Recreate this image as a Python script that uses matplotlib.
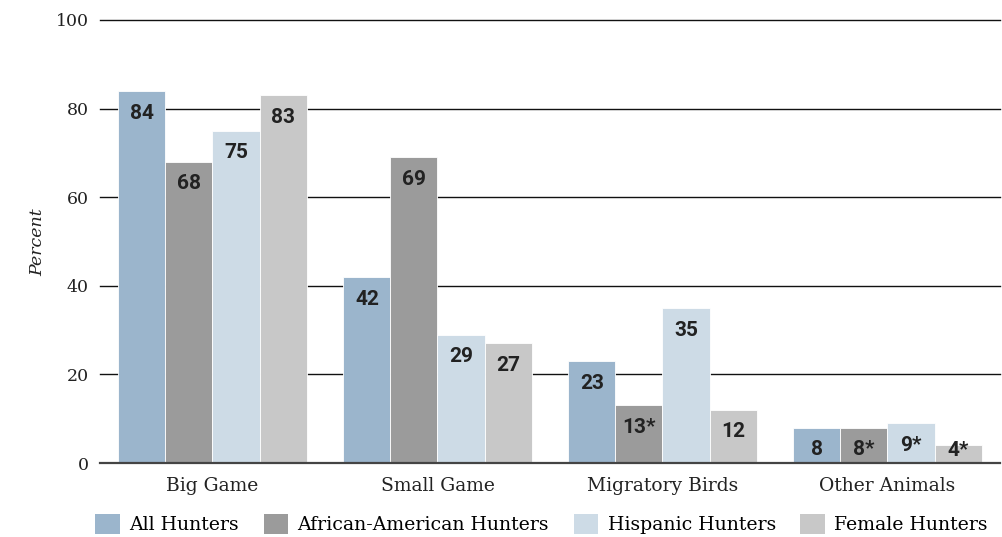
import matplotlib.pyplot as plt
import numpy as np
from matplotlib.patches import Patch

categories = ['Big Game', 'Small Game', 'Migratory Birds', 'Other Animals']
series_names = ['All Hunters', 'African-American Hunters', 'Hispanic Hunters', 'Female Hunters']
all_hunters = [84, 42, 23, 8]
african_american = [68, 69, 13, 8]
hispanic = [75, 29, 35, 9]
female = [83, 27, 12, 4]
bar_labels = [
    ['84', '42', '23', '8'],
    ['68', '69', '13*', '8*'],
    ['75', '29', '35', '9*'],
    ['83', '27', '12', '4*'],
]

colors = ['#9bb5cc', '#9b9b9b', '#cddbe6', '#c8c8c8']
series = [all_hunters, african_american, hispanic, female]

serif = 'DejaVu Serif'

fig = plt.figure(figsize=(10.03, 5.37), dpi=100)
ax = fig.add_axes([100 / 1003, 1 - 463 / 537, 900 / 1003, 443 / 537])

x = np.arange(len(categories))
w = 0.209
for i, (vals, col) in enumerate(zip(series, colors)):
    pos = x + (i - 1.5) * w
    bars = ax.bar(pos, vals, width=w, color=col, edgecolor='white', linewidth=0.6, zorder=3)
    for bar, v, lab in zip(bars, vals, bar_labels[i]):
        ax.text(bar.get_x() + bar.get_width() / 2, max(v - 5, 2.8), lab,
                ha='center', va='center', fontsize=15, fontweight='bold',
                family='Roboto', color='#222222', zorder=4)

ax.set_xlim(-0.5, 3.5)
ax.set_ylim(0, 100)
ax.set_yticks([0, 20, 40, 60, 80, 100])
for yv in [20, 40, 60, 80, 100]:
    ax.axhline(yv, color='#111111', lw=1.0, zorder=1, clip_on=False)
ax.axhline(0, color='#444444', lw=1.6, zorder=5, clip_on=False)

for s in ax.spines.values():
    s.set_visible(False)
ax.tick_params(axis='both', length=0)
ax.tick_params(axis='y', pad=8)
ax.tick_params(axis='x', pad=10)
ax.set_xticks(x)
ax.set_xticklabels(categories, fontsize=13.5, family=serif, color='#222222')
for t in ax.get_yticklabels():
    t.set_fontsize(12.5)
    t.set_family(serif)
    t.set_color('#222222')

fig.text(38 / 1003, 1 - 242 / 537, 'Percent', rotation=90, ha='center', va='center',
         fontsize=12.5, style='italic', family=serif, color='#222222')

handles = [Patch(facecolor=c, edgecolor='none') for c in colors]
fig.legend(handles, series_names, loc='center', bbox_to_anchor=(0.54, 1 - 524 / 537),
           ncol=4, frameon=False, prop={'family': serif, 'size': 13.6},
           handlelength=1.3, handleheight=1.3, handletextpad=0.5, columnspacing=1.3,
           borderaxespad=0)

fig.savefig('out.png', dpi=100)
